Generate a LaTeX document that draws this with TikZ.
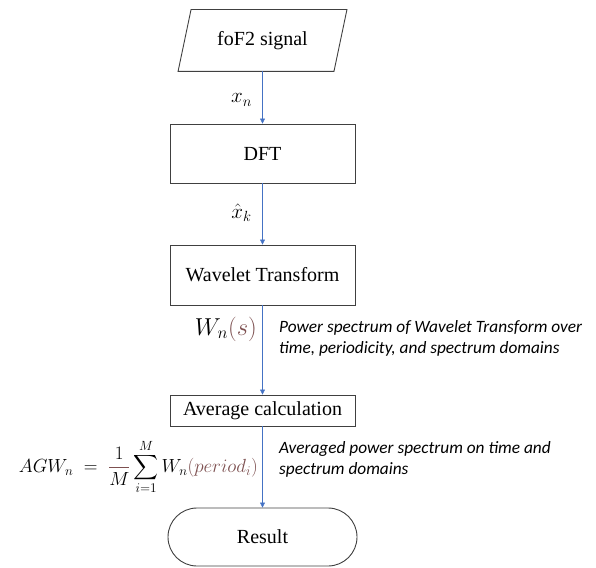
\RequirePackage{fix-cm}
\documentclass[tikz,border=0pt]{standalone}
\usepackage{exscale}
\usepackage{fontspec}
\setmainfont{Liberation Serif}
\newfontfamily\notefont{Carlito}
\usetikzlibrary{arrows.meta}
\definecolor{flowblue}{RGB}{68,114,196}
\definecolor{edgegray}{RGB}{64,64,64}
\definecolor{mathbrown}{RGB}{125,80,80}
\begin{document}
\begin{tikzpicture}[x=1pt,y=-1pt,
  box/.style={draw=edgegray, line width=0.9pt, minimum width=185pt,
              font=\fontsize{20}{24}\selectfont, inner sep=0pt},
  flow/.style={draw=flowblue, line width=0.6pt, -{Triangle[width=5pt,length=5pt]}},
  note/.style={font=\notefont\itshape\fontsize{17.3}{21}\selectfont,
               align=left, anchor=west, inner sep=0pt},
  lab/.style={font=\fontsize{21}{25}\selectfont, inner sep=0pt}]
\useasboundingbox (0,0) rectangle (596,567);

% input signal (parallelogram drawn around an invisible frame node)
\node[box, draw=none, minimum width=168pt, minimum height=61pt] (sig) at (262.5,40.5) {foF2 signal};
\draw[edgegray, line width=0.9pt]
  ([xshift=13pt]sig.north west) -- (sig.north east)
  -- ([xshift=-13pt]sig.south east) -- (sig.south west) -- cycle;

% processing steps
\node[box, minimum height=59pt] (dft) at (262.5,153.5) {DFT};
\node[box, minimum height=60pt] (wt) at (262.5,275) {Wavelet Transform};
\node[box, minimum height=31pt] (avg) at (262.5,410.5) {Average calculation};
\node[box, minimum width=189pt, minimum height=58pt, rounded corners=29pt] (res) at (262.5,537) {Result};

% connectors
\draw[flow] (sig) -- (dft);
\draw[flow] (dft) -- (wt);
\draw[flow] (wt) -- (avg);
\draw[flow] (avg) -- (res);

% quantities carried along the connectors
\node[lab] (xn) at (241.5,100) {$x_n$};
\node[lab] (xk) at (241.5,213) {$\hat{x}_k$};
\node[lab, anchor=east, font=\fontsize{24.5}{29}\selectfont] (wns) at (257,329) {$W_n{\color{mathbrown}(s)}$};
\node[note] (wnote) at (279,338) {Power spectrum of Wavelet Transform over\\time, periodicity, and spectrum domains};
\node[lab, anchor=east, font=\fontsize{19}{23}\selectfont] (agw) at (258,467)
  {$\displaystyle AGW_n \;=\; {\color{mathbrown}\frac{\color{black}1}{\color{black}M}}\sum_{i=1}^{M} W_n{\color{mathbrown}(period_i)}$};
\node[note] (anote) at (279,459.5) {Averaged power spectrum on time and\\spectrum domains};
\end{tikzpicture}
\end{document}
